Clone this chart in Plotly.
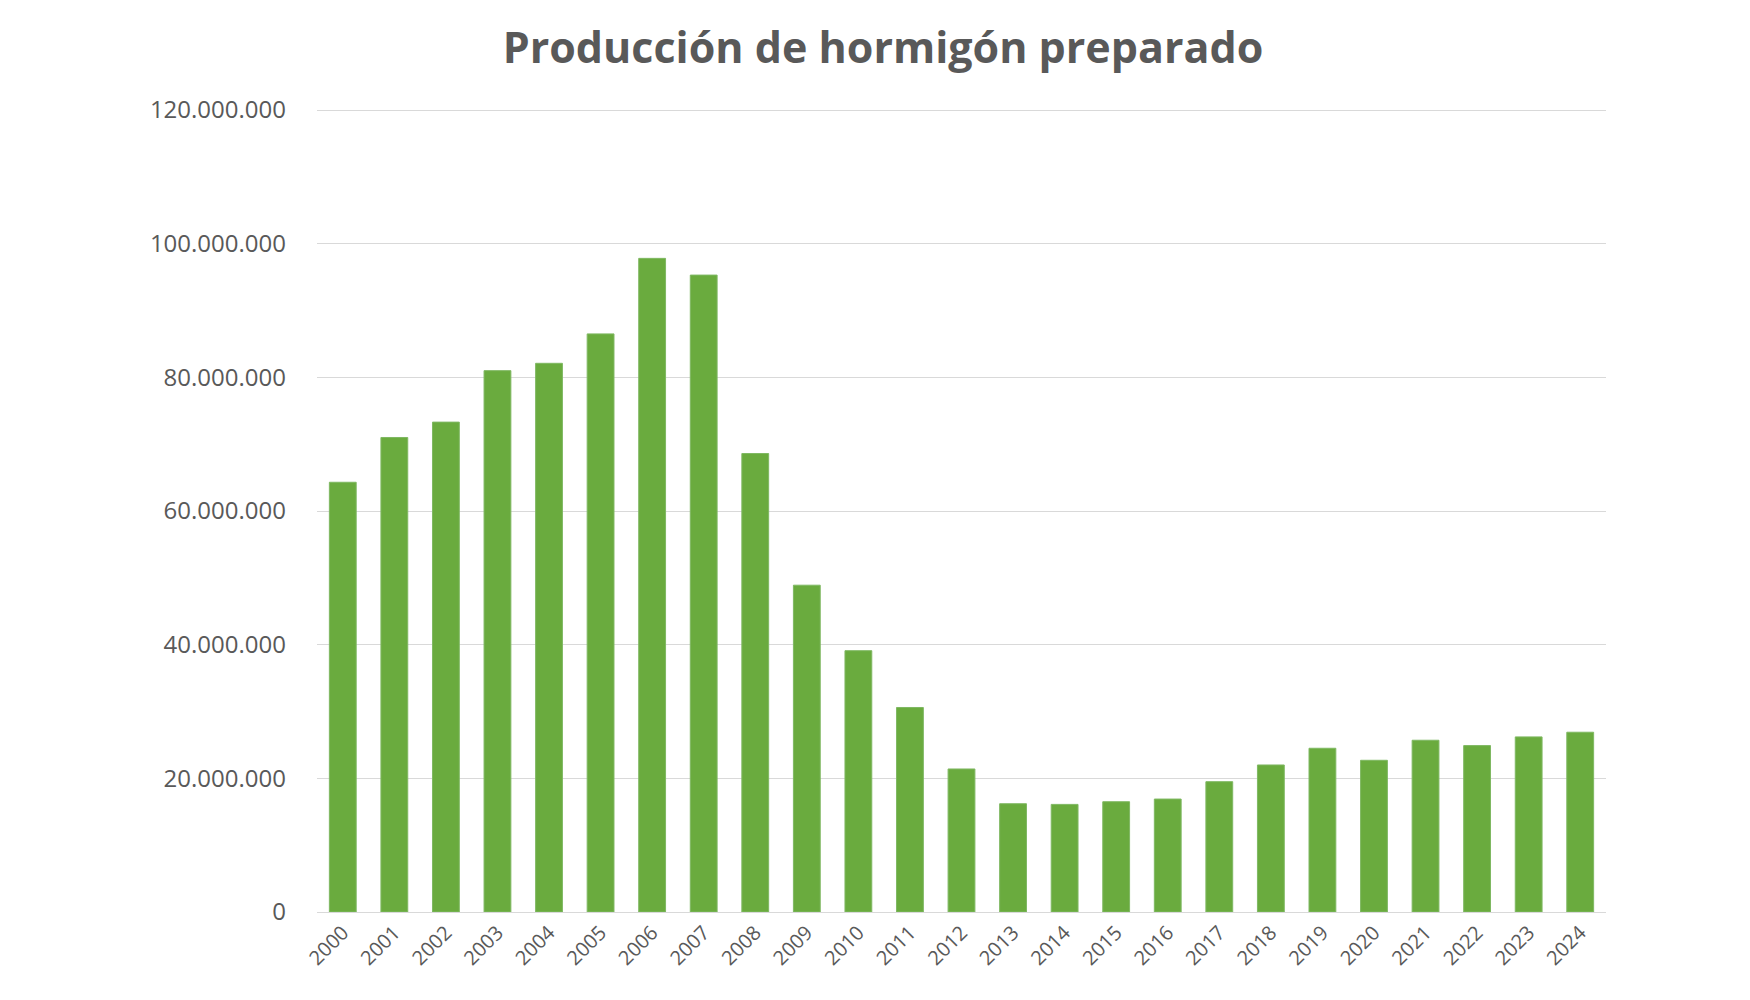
import plotly.graph_objects as go

years = [str(y) for y in range(2000, 2025)]
production = [64.3, 71.0, 73.3, 81.0, 82.1, 86.5, 97.8, 95.3, 68.6, 48.9, 39.1, 30.6, 21.4,
              16.2, 16.1, 16.5, 16.9, 19.5, 22.0, 24.5, 22.7, 25.7, 24.9, 26.2, 26.9]
production = [v * 1_000_000 for v in production]

fig = go.Figure(go.Bar(
    x=years, y=production,
    marker=dict(color="#6aab3e", line=dict(color="#7fb862", width=1)),
    width=0.52,
))
fig.update_layout(
    width=1750, height=1000,
    paper_bgcolor="white", plot_bgcolor="white",
    separators=",.",
    font=dict(family="Open Sans", color="#595959"),
    title=dict(text="<b>Producción de hormigón preparado</b>", x=0.5, xanchor="center",
               y=0.975, font=dict(size=43, color="#595959")),
    margin=dict(l=309, r=152, t=100, b=96),
    showlegend=False,
    bargap=0.48,
)
fig.update_yaxes(range=[0, 120_300_000], tickvals=[0, 20e6, 40e6, 60e6, 80e6, 100e6, 120e6],
                 tickformat=",d",
                 gridcolor="#d9d9d9", gridwidth=1, zeroline=False,
                 tickfont=dict(size=24, color="#595959"), ticks="", ticklabelstandoff=30)
fig.update_xaxes(tickangle=-45, tickfont=dict(size=20, color="#595959"),
                 showline=True, linecolor="#d9d9d9", linewidth=1)
fig.write_html("out.html")
